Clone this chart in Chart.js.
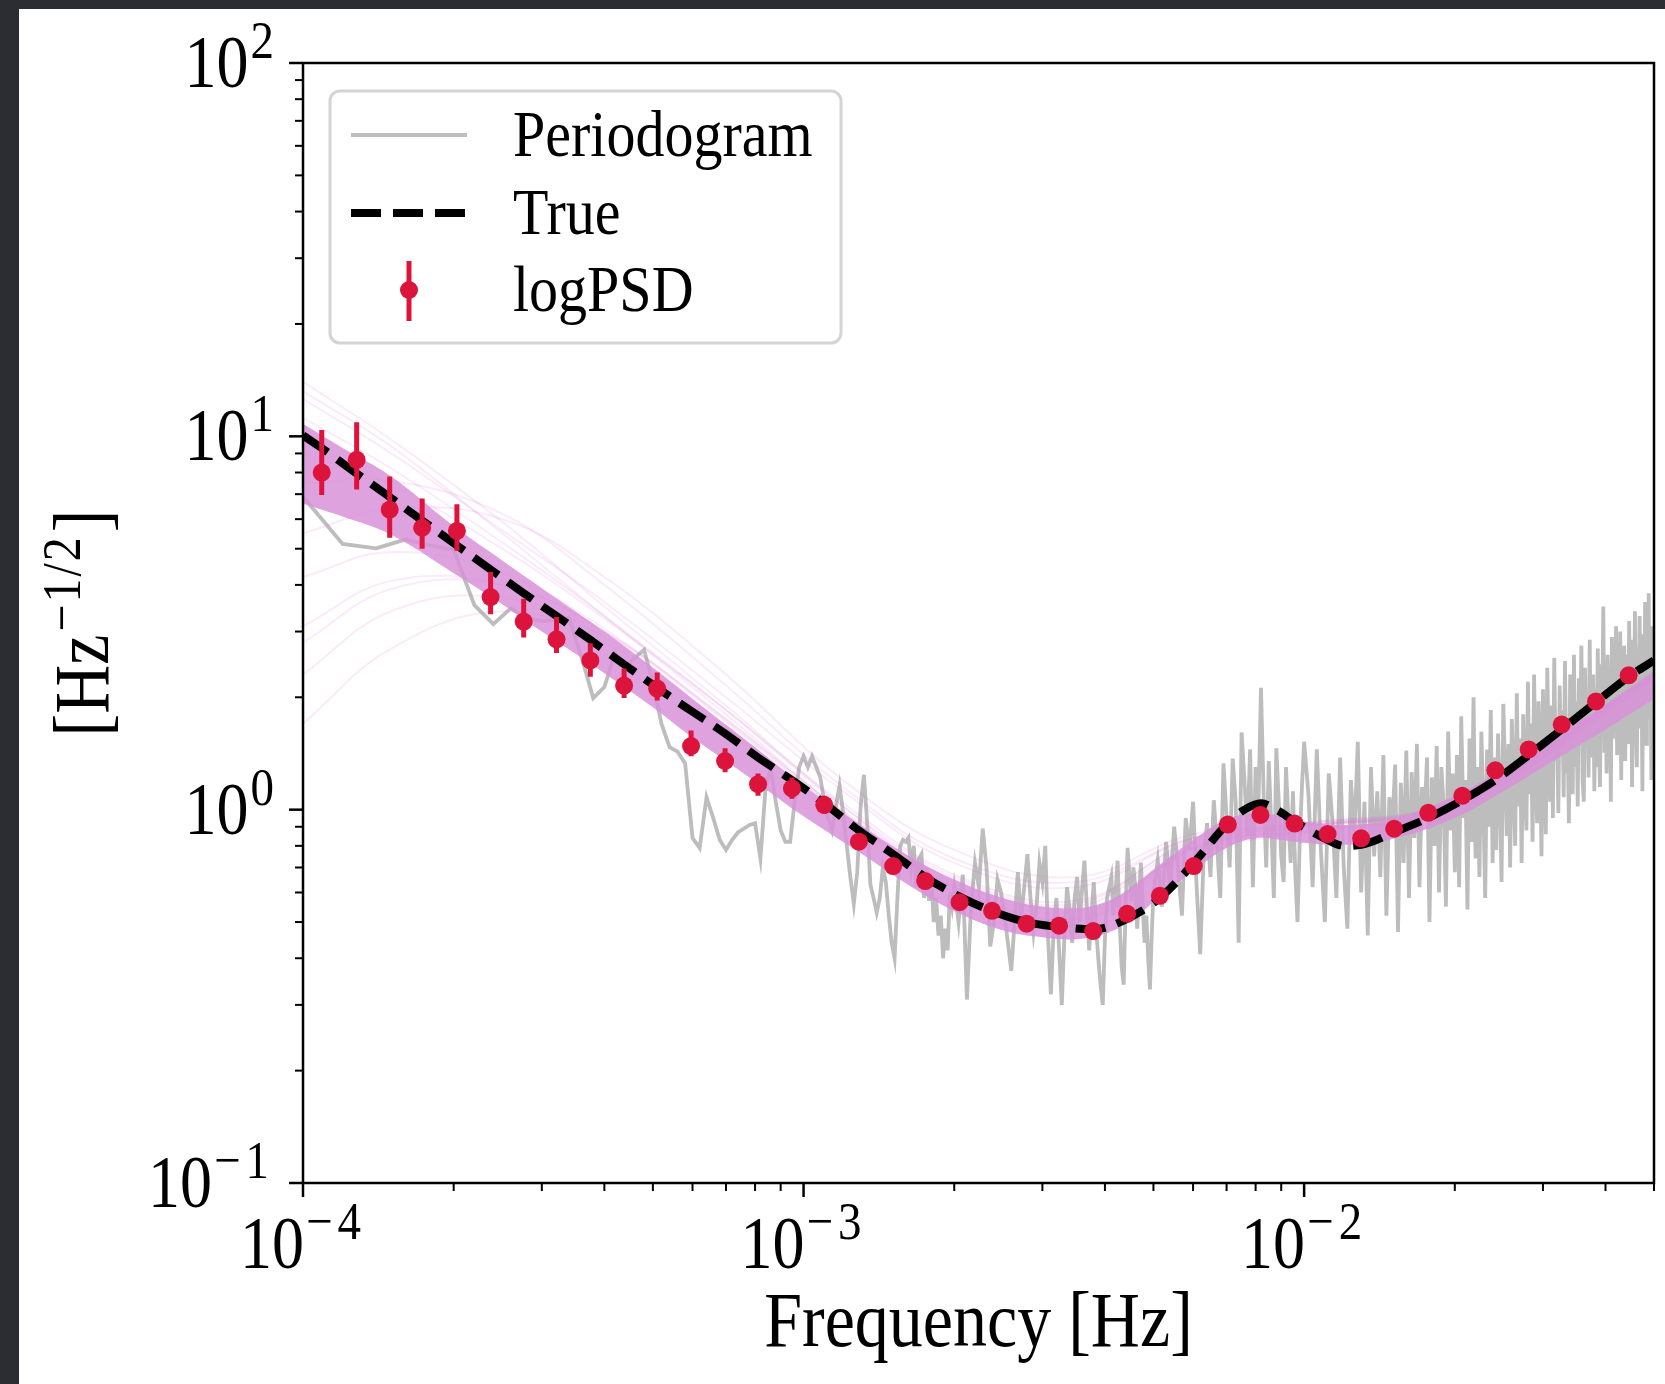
<!DOCTYPE html>
<html>
<head>
<meta charset="utf-8">
<script src="https://cdn.jsdelivr.net/npm/chart.js@4.4.1/dist/chart.umd.min.js"></script>
<style>
  html, body { margin: 0; padding: 0; background: #2b2d33; }
  canvas { display: block; }
</style>
</head>
<body>
<canvas id="psd" width="1665" height="1384"></canvas>
<script>
// logPSD estimates with error bars
const logpsdFreq = [1.09e-4,1.28e-4,1.49e-4,1.73e-4,2.03e-4,2.37e-4,2.76e-4,3.21e-4,3.75e-4,4.38e-4,
  5.10e-4,5.96e-4,6.97e-4,8.11e-4,9.48e-4,1.10e-3,1.29e-3,1.51e-3,1.75e-3,2.05e-3,
  2.38e-3,2.79e-3,3.24e-3,3.79e-3,4.43e-3,5.15e-3,6.02e-3,7.04e-3,8.18e-3,9.57e-3,
  1.114e-2,1.30e-2,1.513e-2,1.77e-2,2.07e-2,2.41e-2,2.81e-2,3.27e-2,3.83e-2,4.45e-2];
const logpsdVal = [8.0,8.65,6.36,5.69,5.58,3.71,3.19,2.86,2.51,2.15,
  2.11,1.48,1.35,1.17,1.14,1.03,0.821,0.706,0.644,0.565,
  0.536,0.495,0.489,0.473,0.526,0.588,0.706,0.912,0.968,0.918,
  0.860,0.838,0.889,0.981,1.089,1.275,1.45,1.69,1.95,2.29];
const logpsdLo = [6.96,7.2,5.35,5.0,4.94,3.34,2.89,2.63,2.27,1.99,
  1.96,1.39,1.26,1.09,1.07,0.975,0.785,0.676,0.617,0.542,
  0.515,0.476,0.47,0.455,0.506,0.566,0.68,0.878,0.932,0.885,
  0.829,0.808,0.857,0.946,1.05,1.23,1.40,1.63,1.88,2.21];
const logpsdHi = [10.4,10.9,7.8,6.82,6.58,4.34,3.67,3.28,2.79,2.39,
  2.33,1.63,1.46,1.25,1.22,1.09,0.858,0.737,0.672,0.589,
  0.558,0.515,0.509,0.492,0.547,0.611,0.733,0.947,1.005,0.952,
  0.892,0.869,0.922,1.017,1.129,1.32,1.50,1.75,2.02,2.37];

// true PSD
const trueFreq = [1.0e-4,1.09e-4,1.28e-4,1.49e-4,1.73e-4,2.03e-4,2.37e-4,2.76e-4,3.21e-4,3.75e-4,
  4.38e-4,5.10e-4,5.96e-4,6.97e-4,8.11e-4,9.48e-4,1.10e-3,1.29e-3,1.51e-3,1.75e-3,
  2.05e-3,2.38e-3,2.79e-3,3.24e-3,3.79e-3,4.43e-3,5.15e-3,6.02e-3,7.04e-3,7.6e-3,
  8.2e-3,8.8e-3,9.57e-3,1.114e-2,1.2e-2,1.30e-2,1.513e-2,1.77e-2,2.07e-2,2.41e-2,
  2.81e-2,3.27e-2,3.83e-2,4.45e-2,5.0e-2];
const trueVal = [10.06,9.3,7.95,6.88,5.95,5.1,4.4,3.8,3.3,2.85,
  2.45,2.12,1.84,1.60,1.38,1.20,1.04,0.88,0.76,0.66,
  0.585,0.535,0.50,0.485,0.478,0.51,0.58,0.72,0.92,1.0,
  1.04,1.0,0.93,0.83,0.80,0.805,0.87,0.95,1.06,1.2,
  1.40,1.64,1.94,2.27,2.51];

// dense core of the posterior draws
const bandFreq = [1.0e-4,1.2e-4,1.5e-4,2.0e-4,2.5e-4,3.0e-4,4.0e-4,5.0e-4,6.0e-4,8.0e-4,
  1.0e-3,1.3e-3,1.6e-3,2.0e-3,2.5e-3,3.0e-3,3.5e-3,4.0e-3,4.5e-3,5.0e-3,
  6.0e-3,7.0e-3,8.0e-3,9.0e-3,1.0e-2,1.2e-2,1.5e-2,2.0e-2,2.5e-2,3.0e-2,4.0e-2,5.0e-2];
const bandHi = [10.8,9.3,7.8,5.75,4.65,3.92,3.0,2.4,1.98,1.47,
  1.16,0.91,0.76,0.65,0.58,0.55,0.545,0.565,0.615,0.69,
  0.83,0.94,0.98,0.96,0.93,0.91,0.94,1.09,1.29,1.51,1.91,2.33];
const bandLo = [6.6,6.1,5.45,4.3,3.55,3.0,2.32,1.88,1.56,1.19,
  0.96,0.765,0.635,0.535,0.475,0.455,0.45,0.465,0.505,0.565,
  0.685,0.79,0.84,0.83,0.815,0.805,0.835,0.95,1.12,1.30,1.64,1.98];

// a few faint individual draws (spread at low frequency)
const drawFreq = [1e-4,1.5e-4,2.5e-4,4e-4,7e-4,1.2e-3,2e-3,3.5e-3,6e-3,1e-2,2e-2,5e-2];
const draws = [
  [14.0,9.8,5.9,3.5,1.9,1.02,0.64,0.53,0.78,0.90,1.04,2.30],
  [1.7,2.7,3.4,2.8,1.65,0.93,0.60,0.50,0.76,0.87,1.00,2.20],
  [2.3,3.4,3.7,2.9,1.68,0.95,0.62,0.52,0.80,0.90,1.04,2.30],
  [3.1,4.1,4.0,3.0,1.72,0.97,0.63,0.51,0.79,0.88,1.01,2.25],
  [4.2,4.9,4.3,3.05,1.74,0.98,0.62,0.50,0.78,0.87,1.02,2.22],
  [5.5,6.4,6.0,4.2,2.3,1.2,0.78,0.66,0.86,0.92,1.06,2.30],
  [12.6,9.0,5.6,3.6,2.0,1.12,0.72,0.62,0.84,0.91,1.05,2.35],
  [11.2,8.2,5.2,3.3,1.85,1.04,0.67,0.57,0.82,0.90,1.04,2.32],
  [7.5,7.6,6.2,4.0,2.15,1.15,0.74,0.64,0.84,0.92,1.06,2.28],
  [13.2,9.4,5.5,3.3,1.80,0.98,0.62,0.51,0.79,0.88,1.02,2.25],
  [9.0,7.4,5.0,3.25,1.85,1.02,0.66,0.56,0.83,0.91,1.05,2.33],
  [2.8,3.9,4.0,3.0,1.75,0.99,0.65,0.55,0.81,0.90,1.03,2.28]
];

const pgA = [6.89,5.15,5.01,5.29,5.10,4.96,3.53,3.14,3.46,3.26,3.20,3.22,3.26,2.57,1.99,2.13,2.62,2.41,2.55,2.68,
  2.20,1.70,1.47,1.43,1.33,0.84,0.79,1.08,0.95,0.83,0.78,0.83,0.87,0.89,0.91,0.92,0.74,1.15,1.28,1.05,
  0.88,0.82,0.82,1.05,1.30,1.39];
const pgB = [1.30,1.39,1.30,1.22,1.05,0.95,0.88,1.02,1.16,0.98,0.80,0.66,0.56,0.68,1.02,1.24,0.92,0.63,0.58,0.53,
  0.58,0.70,0.64,0.52,0.44,0.40,0.58,0.80,0.83,0.82,0.84,0.70,0.80,0.62,0.74,0.76,0.58,0.70,0.57,0.66,
  0.50,0.58,0.46,0.52,0.40,0.48,0.42,0.60,0.55,0.62];
const pgC = [0.50,0.67,0.31,0.55,0.72,0.62,0.89,0.70,0.43,0.50,0.65,0.60,0.52,0.44,0.37,0.50,0.68,0.51,0.62,0.76,
  0.58,0.47,0.55,0.72,0.64,0.80,0.45,0.32,0.48,0.58,0.42,0.30,0.46,0.62,0.54,0.44,0.58,0.66,0.50,0.61,
  0.73,0.55,0.42,0.52,0.64,0.48,0.40,0.34,0.30,0.45,0.58,0.62,0.66,0.52,0.60,0.73,0.50,0.38,0.34,0.55,
  0.79,0.66,0.57,0.70,0.62,0.48,0.58,0.72,0.55,0.44,0.52,0.40,0.33,0.46,0.60];
const pgD = [0.73,0.55,0.82,0.62,0.90,0.70,0.52,0.95,0.78,1.05,0.62,0.41,0.75,0.92,0.66,1.06,0.80,0.58,1.33,0.95,
  0.70,1.37,1.05,0.44,1.61,1.20,0.85,1.45,0.62,1.30,1.00,2.12,1.10,0.70,1.35,0.90,0.58,1.46,1.05,0.75,
  0.64,1.30,0.95,0.72,1.12,0.68,0.50,0.82,1.15,1.52];
const pgE = [1.10,0.62,1.45,0.78,0.50,1.25,0.92,0.58,1.38,0.70, 0.48,1.20,0.85,1.52,0.60,1.05,0.46,1.30,0.75,1.12,
  0.66,1.40,0.52,1.08,0.90,1.32,0.47,1.18,0.72,1.44, 0.58,1.26,0.84,1.50,0.62,1.15,0.96,1.38,0.50,1.22,
  0.80,1.48,0.60,1.30,1.02,0.55,1.62,0.88,1.25,0.68, 1.40,0.62,1.78,0.95,1.20,0.54,1.55,0.82,2.00,0.74,
  1.30,0.66,1.62,1.05,0.58,1.45,0.90,1.85,0.72,1.38, 0.78,1.60,1.10,0.64,1.92,1.28,0.85,1.50,0.70,1.75,
  1.20,0.80,2.05,1.02,1.55,0.72,1.80,1.15,0.88,2.20, 1.10,1.70,0.82,2.30,1.28,0.92,1.95,1.40,0.75,2.10,
  1.25,0.86,2.40,1.50,1.05,1.90,0.95,2.55,1.35,1.70, 0.98,2.15,1.40,1.85,1.08,2.50,1.25,1.62,0.92,2.30,
  1.48,1.10,2.60,1.30,1.95,1.02,2.25,1.60,2.75,1.20, 1.05,2.40,1.55,2.00,1.22,2.85,1.38,1.78,2.30,1.12,
  2.10,1.30,2.70,1.60,1.15,2.45,1.85,3.50,1.42,2.20, 1.25,2.60,1.70,2.20,1.05,2.90,1.55,2.35,1.90,3.10,
  1.40,2.50,1.85,3.00,1.20,2.30,1.70,2.75,1.35,2.15, 2.60,1.50,3.20,1.80,2.40,1.15,2.85,1.95,3.40,1.60,
  1.30,2.70,2.05,3.30,1.65,2.45,1.12,2.95,1.85,3.60, 1.50,2.80,2.10,3.80,1.75,2.50,1.20,3.10,1.95,2.60];
const pgPieces = [[pgA,1.0e-4,2e-5],[pgB,1.02e-3,2e-5],[pgC,2.04e-3,4e-5],[pgD,5.1e-3,1e-4],[pgE,1.02e-2,2e-4]];

// axis ticks
const xMajorTicks = [1e-4,1e-3,1e-2];
const xTickExp = ['\u22124','\u22123','\u22122'];
const xMinorTicks = [2e-4,3e-4,4e-4,5e-4,6e-4,7e-4,8e-4,9e-4,2e-3,3e-3,4e-3,5e-3,6e-3,7e-3,8e-3,9e-3,2e-2,3e-2,4e-2,5e-2];
const yMajorTicks = [0.1,1,10,100];
const yTickExp = ['\u22121','0','1','2'];
const yMinorTicks = [0.2,0.3,0.4,0.5,0.6,0.7,0.8,0.9,2,3,4,5,6,7,8,9,20,30,40,50,60,70,80,90];

const FONT = '"Liberation Serif", "Times New Roman", serif';
const SY = 1.14; // reference glyphs are a bit taller than Liberation's
const RED = '#dc143c';

function say(c, s, size, x, y, align, spacing) {
  c.save();
  c.translate(x, y);
  c.scale(1, SY);
  c.font = size + 'px ' + FONT;
  if (spacing) c.letterSpacing = spacing;
  c.textAlign = align || 'left';
  c.textBaseline = 'alphabetic';
  c.fillStyle = '#000';
  c.fillText(s, 0, 0);
  c.restore();
}
function textWidth(c, s, size, spacing) {
  c.save();
  c.font = size + 'px ' + FONT;
  if (spacing) c.letterSpacing = spacing;
  const w = c.measureText(s).width;
  c.restore();
  return w;
}
function powLabel(c, exp, x, base, mode) {
  const sp = exp.length > 1 ? '5px' : '0px';
  const wb = textWidth(c, '10', 64);
  const we = textWidth(c, exp, 47, sp);
  const x0 = mode === 'right' ? x - wb - we - 2 : x - (wb + we + 2) / 2;
  say(c, '10', 64, x0, base);
  say(c, exp, 47, x0 + wb + 2, base - 29, 'left', sp);
}

const deco = {
  id: 'deco',
  beforeDraw(chart) {
    const c = chart.ctx;
    c.save();
    c.fillStyle = '#2b2d33';
    c.fillRect(0, 0, chart.width, chart.height);
    c.fillStyle = '#ffffff';
    c.fillRect(19, 9, chart.width - 19, chart.height - 9);
    c.restore();
  },
  afterDraw(chart) {
    const c = chart.ctx, a = chart.chartArea, xs = chart.scales.x, ys = chart.scales.y;
    c.save();
    c.strokeStyle = '#000'; c.lineCap = 'butt';
    const seg = (x1, y1, x2, y2, w) => { c.lineWidth = w; c.beginPath(); c.moveTo(x1, y1); c.lineTo(x2, y2); c.stroke(); };
    xMajorTicks.forEach(v => { const p = xs.getPixelForValue(v); seg(p, a.bottom, p, a.bottom + 14, 2.5); });
    xMinorTicks.forEach(v => { const p = xs.getPixelForValue(v); seg(p, a.bottom, p, a.bottom + 8, 2); });
    yMajorTicks.forEach(v => { const p = ys.getPixelForValue(v); seg(a.left - 14, p, a.left, p, 2.5); });
    yMinorTicks.forEach(v => { const p = ys.getPixelForValue(v); seg(a.left - 8, p, a.left, p, 2); });
    c.lineWidth = 2.5;
    c.strokeRect(a.left, a.top, a.right - a.left, a.bottom - a.top);

    xMajorTicks.forEach((v, i) => powLabel(c, xTickExp[i], xs.getPixelForValue(v), 1268, 'center'));
    yMajorTicks.forEach((v, i) => powLabel(c, yTickExp[i], 274, ys.getPixelForValue(v) + 24, 'right'));

    say(c, 'Frequency [Hz]', 68, (a.left + a.right) / 2, 1346, 'center');

    // y title, rotated
    c.save();
    c.translate(108, (a.top + a.bottom) / 2);
    c.rotate(-Math.PI / 2);
    const w1 = textWidth(c, '[Hz', 68), w3 = textWidth(c, ']', 68);
    const w2 = textWidth(c, '\u22121/2', 48, '2px');
    const x0 = -(w1 + w2 + w3 + 6) / 2;
    say(c, '[Hz', 68, x0, 0);
    say(c, '\u22121/2', 48, x0 + w1 + 3, -28, 'left', '2px');
    say(c, ']', 68, x0 + w1 + w2 + 6, 0);
    c.restore();

    // legend
    c.beginPath();
    if (c.roundRect) c.roundRect(330, 91, 511, 252, 10); else c.rect(330, 91, 511, 252);
    c.fillStyle = 'rgba(255,255,255,0.85)'; c.fill();
    c.strokeStyle = '#d4d4d4'; c.lineWidth = 3; c.stroke();
    c.strokeStyle = '#bfbfbf'; seg(351, 135, 467, 135, 3.8);
    c.strokeStyle = '#000'; c.setLineDash([30, 12]); seg(351, 213, 467, 213, 8); c.setLineDash([]);
    c.strokeStyle = RED; seg(409, 261, 409, 321, 5);
    c.fillStyle = RED; c.beginPath(); c.arc(409, 290, 9, 0, Math.PI * 2); c.fill();
    say(c, 'Periodogram', 58, 513, 156);
    say(c, 'True', 58, 513, 234);
    say(c, 'logPSD', 58, 513, 311);
    c.restore();
  }
};

const pgPoints = [];
pgPieces.forEach(([vals, f0, df]) => vals.forEach((v, i) => pgPoints.push({x: f0 + i * df, y: v})));
const errPoints = [];
logpsdFreq.forEach((f, i) => errPoints.push({x: f, y: logpsdLo[i]}, {x: f, y: logpsdHi[i]}, {x: f, y: null}));
const pair = (xs, ys) => xs.map((x, i) => ({x, y: ys[i]}));

const datasets = [];
datasets.push({label: 'Periodogram', data: pgPoints, borderColor: '#bdbdbd', borderWidth: 3.8, order: 10});
draws.forEach(d => datasets.push({data: pair(drawFreq, d), borderColor: 'rgba(218,112,214,0.14)', borderWidth: 2, tension: 0.4, order: 8}));
const loIdx = datasets.length;
datasets.push({data: pair(bandFreq, bandLo), borderWidth: 0, borderColor: 'rgba(0,0,0,0)', tension: 0.4, order: 7});
datasets.push({data: pair(bandFreq, bandHi), borderWidth: 0, borderColor: 'rgba(0,0,0,0)', tension: 0.4, order: 7,
  fill: {target: loIdx}, backgroundColor: 'rgba(216,146,216,0.85)'});
datasets.push({label: 'True', data: pair(trueFreq, trueVal), borderColor: '#000', borderWidth: 8, borderDash: [30, 12],
  borderCapStyle: 'butt', cubicInterpolationMode: 'monotone', order: 3});
datasets.push({data: errPoints, borderColor: RED, borderWidth: 5, spanGaps: false, borderCapStyle: 'butt', order: 2});
datasets.push({label: 'logPSD', data: pair(logpsdFreq, logpsdVal), showLine: false, pointRadius: 9,
  pointBackgroundColor: RED, pointBorderWidth: 0, order: 1});
datasets.forEach(d => { d.clip = 0; if (d.pointRadius === undefined) d.pointRadius = 0; d.fill = d.fill || false; });

new Chart(document.getElementById('psd'), {
  type: 'line',
  data: {datasets},
  options: {
    responsive: false,
    animation: false,
    devicePixelRatio: 1,
    layout: {padding: {left: 303, top: 63, right: 11, bottom: 201}},
    scales: {
      x: {type: 'logarithmic', min: 1e-4, max: 5e-2, display: false},
      y: {type: 'logarithmic', min: 0.1, max: 100, display: false}
    },
    plugins: {legend: {display: false}, tooltip: {enabled: false}},
    events: []
  },
  plugins: [deco]
});
</script>
</body>
</html>
